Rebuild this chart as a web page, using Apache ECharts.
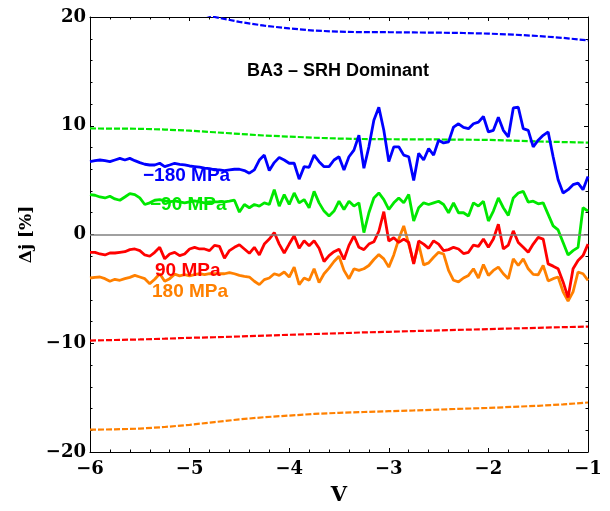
<!DOCTYPE html>
<html>
<head>
<meta charset="utf-8">
<script src="https://cdn.jsdelivr.net/npm/echarts@6/dist/echarts.min.js"></script>
<style>
  html, body { margin: 0; padding: 0; background: #fff; }
  #chart { width: 610px; height: 511px; }
</style>
</head>
<body>
<div id="chart"></div>
<script>
// sampling voltages of the measured curves
const voltage = [
  -6.00, -5.95, -5.90, -5.85, -5.80, -5.75, -5.70, -5.65, -5.60, -5.55,
  -5.50, -5.45, -5.40, -5.35, -5.30, -5.25, -5.20, -5.15, -5.10, -5.05,
  -5.00, -4.95, -4.90, -4.85, -4.80, -4.75, -4.70, -4.65, -4.60, -4.55,
  -4.50, -4.45, -4.40, -4.35, -4.30, -4.25, -4.20, -4.15, -4.10, -4.05,
  -4.00, -3.95, -3.90, -3.85, -3.80, -3.75, -3.70, -3.65, -3.60, -3.55,
  -3.50, -3.45, -3.40, -3.35, -3.30, -3.25, -3.20, -3.15, -3.10, -3.05,
  -3.00, -2.95, -2.90, -2.85, -2.80, -2.75, -2.70, -2.65, -2.60, -2.55,
  -2.50, -2.45, -2.40, -2.35, -2.30, -2.25, -2.20, -2.15, -2.10, -2.05,
  -2.00, -1.95, -1.90, -1.85, -1.80, -1.75, -1.70, -1.65, -1.60, -1.55,
  -1.50, -1.45, -1.40, -1.35, -1.30, -1.25, -1.20, -1.15, -1.10, -1.05,
  -1.00
];

// measured (noisy) curves
const blueSolid = [
  6.70, 6.79, 6.85, 6.79, 6.70, 6.85, 7.00, 6.85, 7.00, 6.79,
  6.61, 6.46, 6.39, 6.39, 6.55, 6.24, 6.39, 6.55, 6.45, 6.40,
  6.30, 6.25, 6.20, 6.10, 6.05, 5.94, 5.94, 5.88, 5.94, 6.00,
  6.00, 5.88, 5.64, 5.94, 6.85, 7.30, 5.88, 6.61, 7.09, 6.85,
  6.55, 6.55, 5.09, 6.24, 6.18, 7.30, 6.70, 6.24, 6.24, 6.85,
  7.15, 5.94, 7.15, 7.76, 9.12, 6.09, 8.06, 10.50, 11.70, 9.58,
  6.70, 8.06, 8.06, 7.30, 7.15, 4.97, 7.46, 6.85, 7.91, 7.30,
  8.67, 8.42, 8.52, 9.88, 10.18, 9.85, 9.73, 10.18, 10.33, 10.85,
  9.43, 9.58, 10.79, 9.58, 8.97, 11.64, 11.70, 9.73, 9.58, 8.06,
  8.67, 9.12, 9.43, 7.15, 5.03, 3.82, 4.12, 4.58, 4.73, 4.12,
  5.33
];
const greenSolid = [
  3.67, 3.61, 3.45, 3.36, 3.52, 3.27, 3.15, 3.45, 3.76, 3.67,
  3.36, 2.76, 2.91, 3.15, 3.20, 3.10, 3.00, 3.10, 3.00, 2.90,
  3.00, 3.10, 3.00, 2.90, 3.00, 3.00, 3.00, 3.00, 3.06, 3.15,
  2.06, 2.76, 2.46, 2.76, 2.61, 2.91, 2.76, 4.12, 2.61, 3.67,
  2.76, 3.82, 2.91, 3.21, 2.46, 3.97, 2.91, 2.15, 1.70, 2.15,
  3.06, 2.30, 3.06, 2.61, 2.91, 0.18, 2.00, 3.36, 3.82, 3.21,
  2.30, 2.91, 3.36, 2.91, 3.67, 1.24, 2.46, 2.91, 2.76, 2.91,
  3.06, 2.76, 2.00, 2.91, 2.00, 2.00, 1.70, 2.91, 2.61, 3.06,
  1.24, 2.15, 3.36, 2.46, 1.76, 3.36, 3.82, 3.97, 2.97, 3.06,
  2.82, 2.91, 1.85, 0.79, 0.42, -0.73, -1.88, -1.48, -1.18, 2.46,
  2.15
];
const redSolid = [
  -1.64, -1.64, -1.79, -1.88, -1.70, -1.70, -1.64, -1.58, -1.39, -1.33,
  -1.48, -1.88, -2.00, -1.64, -1.18, -2.24, -1.79, -1.64, -1.94, -1.79,
  -1.33, -1.18, -1.33, -1.33, -1.48, -1.00, -1.09, -2.18, -1.48, -1.18,
  -0.94, -1.33, -1.73, -1.18, -1.88, -0.88, -0.42, 0.18, -0.88, -1.70,
  -0.88, -0.12, -1.27, -0.58, -1.03, -0.58, -1.27, -2.48, -1.94, -1.58,
  -1.35, -2.30, -1.00, -0.12, -1.18, -1.39, -0.88, -0.67, 0.30, 2.10,
  -0.60, -0.30, -0.73, -0.42, -0.73, -2.70, -0.60, -0.88, -1.27, -0.58,
  -0.88, -1.48, -1.39, -1.18, -1.33, -1.75, -1.64, -0.97, -1.09, -0.42,
  -1.18, -0.42, 0.95, -1.33, -0.97, 0.33, -0.73, -1.18, -1.64, -0.88,
  -0.27, -0.42, -2.70, -2.91, -3.15, -4.36, -5.80, -3.15, -2.39, -1.94,
  -0.88
];
const orangeSolid = [
  -4.00, -3.94, -3.91, -4.06, -4.30, -4.12, -4.21, -4.06, -3.94, -3.76,
  -3.91, -4.06, -4.52, -4.12, -3.61, -4.30, -4.06, -3.65, -3.80, -3.70,
  -3.80, -3.70, -3.60, -3.70, -3.60, -3.61, -3.61, -3.61, -3.50, -3.61,
  -3.76, -3.85, -3.91, -4.30, -4.61, -4.15, -4.00, -3.61, -3.76, -3.45,
  -3.91, -3.00, -4.61, -4.00, -4.21, -3.15, -4.42, -3.61, -3.09, -2.48,
  -2.00, -3.30, -4.06, -3.15, -3.30, -3.15, -2.85, -2.30, -1.85, -2.24,
  -3.00, -1.88, -0.42, 0.79, -0.88, -2.60, -0.90, -2.79, -2.61, -2.09,
  -1.64, -1.79, -3.30, -4.21, -4.36, -4.00, -3.76, -3.15, -4.00, -2.76,
  -3.76, -3.30, -3.00, -3.61, -4.06, -2.24, -2.85, -2.24, -3.15, -3.67,
  -3.70, -2.85, -4.27, -4.06, -3.91, -5.27, -6.12, -5.27, -3.45, -3.61,
  -4.21
];

// smooth (dashed) model curves
const dashV = [-6, -5.75, -5.5, -5.25, -5, -4.75, -4.5, -4.25, -4, -3.75, -3.5,
  -3.25, -3, -2.75, -2.5, -2.25, -2, -1.75, -1.5, -1.25, -1];
const blueDash = [23.3, 22.6, 21.9, 21.2, 20.6, 20.0, 19.55, 19.2, 18.95, 18.75, 18.65,
  18.6, 18.6, 18.58, 18.56, 18.53, 18.47, 18.38, 18.25, 18.08, 17.85];
const greenDash = [9.75, 9.74, 9.72, 9.65, 9.55, 9.4, 9.25, 9.1, 9.0, 8.9, 8.82,
  8.78, 8.76, 8.75, 8.74, 8.72, 8.7, 8.63, 8.56, 8.5, 8.45];
const redDash = [-9.75, -9.7, -9.65, -9.58, -9.5, -9.45, -9.38, -9.3, -9.22, -9.15, -9.08,
  -9.0, -8.95, -8.88, -8.82, -8.76, -8.7, -8.64, -8.58, -8.52, -8.47];
const orangeDash = [-17.95, -17.92, -17.85, -17.7, -17.5, -17.25, -17.0, -16.8, -16.65, -16.5, -16.4,
  -16.32, -16.25, -16.18, -16.1, -16.02, -15.95, -15.85, -15.75, -15.62, -15.45];

const xTicks = [-6, -5, -4, -3, -2, -1];
const xTickLabels = ["\u22126", "\u22125", "\u22124", "\u22123", "\u22122", "\u22121"];
const yTicks = [-20, -10, 0, 10, 20];
const yTickLabels = ["\u221220", "\u221210", "0", "10", "20"];

const BLUE = "#0000ff", GREEN = "#00e800", RED = "#ff0000", ORANGE = "#ff8000";

const zip = (xs, ys) => xs.map((x, i) => [x, ys[i]]);

const serif = "DejaVu Serif";
const sans = "Liberation Sans";

function frameAxis(extra) {
  return Object.assign({
    type: "value",
    axisLine: { show: true, onZero: false, lineStyle: { color: "#000", width: 1 } },
    axisTick: { show: true, inside: true, length: 4, lineStyle: { color: "#000", width: 1 } },
    minorTick: { show: true, splitNumber: 5, length: 2.5, lineStyle: { color: "#000", width: 1 } },
    splitLine: { show: false },
  }, extra);
}

const chart = echarts.init(document.getElementById("chart"));

const tickFont = { fontFamily: serif, fontWeight: "bold", fontSize: 18, color: "#000" };

const option = {
  animation: false,
  grid: { left: 90, right: 22, top: 17, bottom: 54 },
  xAxis: [
    frameAxis({
      min: -6, max: -1, interval: 1, position: "bottom",
      axisLabel: Object.assign({
        margin: 8, showMinLabel: true, showMaxLabel: true,
        formatter: (v) => xTickLabels[xTicks.indexOf(Math.round(v))],
      }, tickFont),
      name: "V", nameLocation: "middle", nameGap: 33,
      nameTextStyle: { fontFamily: serif, fontWeight: "bold", fontSize: 21, color: "#000" },
    }),
    frameAxis({ min: -6, max: -1, interval: 1, position: "top", axisLabel: { show: false } }),
  ],
  yAxis: [
    frameAxis({
      min: -20, max: 20, interval: 10, position: "left",
      axisLabel: Object.assign({
        margin: 4, showMinLabel: true, showMaxLabel: true,
        formatter: (v) => yTickLabels[yTicks.indexOf(Math.round(v))],
      }, tickFont),
      name: "\u0394j [%]", nameLocation: "middle", nameGap: 52, nameRotate: 90,
      nameTextStyle: { fontFamily: serif, fontWeight: "bold", fontSize: 17, color: "#000" },
    }),
    frameAxis({ min: -20, max: 20, interval: 10, position: "right", axisLabel: { show: false } }),
  ],
  series: [
    {
      type: "line", data: zip(dashV, blueDash), showSymbol: false,
      lineStyle: { color: BLUE, width: 2.2, type: [6, 2] },
      markLine: {
        silent: true, symbol: "none", label: { show: false },
        lineStyle: { color: "#808080", width: 1.5, type: "solid" },
        data: [{ yAxis: 0 }],
      },
    },
    { type: "line", data: zip(dashV, greenDash), showSymbol: false, lineStyle: { color: GREEN, width: 2.2, type: [6, 2] } },
    { type: "line", data: zip(dashV, redDash), showSymbol: false, lineStyle: { color: RED, width: 2.2, type: [6, 2] } },
    { type: "line", data: zip(dashV, orangeDash), showSymbol: false, lineStyle: { color: ORANGE, width: 2.2, type: [6, 2] } },
    { type: "line", data: zip(voltage, orangeSolid), showSymbol: false, lineStyle: { color: ORANGE, width: 2.8 } },
    { type: "line", data: zip(voltage, redSolid), showSymbol: false, lineStyle: { color: RED, width: 2.8 } },
    { type: "line", data: zip(voltage, greenSolid), showSymbol: false, lineStyle: { color: GREEN, width: 2.8 } },
    { type: "line", data: zip(voltage, blueSolid), showSymbol: false, lineStyle: { color: BLUE, width: 2.8 } },
  ],
  graphic: [
    { type: "text", x: 338, y: 71, z: 100,
      style: { text: "BA3 \u2013 SRH Dominant", fill: "#000", font: "bold 18px " + sans, align: "center", verticalAlign: "middle" } },
    { type: "text", x: 143, y: 176, z: 100,
      style: { text: "\u2212180 MPa", fill: BLUE, font: "bold 19px " + sans, verticalAlign: "middle" } },
    { type: "text", x: 150, y: 205, z: 100,
      style: { text: "\u221290 MPa", fill: GREEN, font: "bold 19px " + sans, verticalAlign: "middle" } },
    { type: "text", x: 155, y: 271, z: 100,
      style: { text: "90 MPa", fill: RED, font: "bold 19px " + sans, verticalAlign: "middle" } },
    { type: "text", x: 152, y: 292, z: 100,
      style: { text: "180 MPa", fill: ORANGE, font: "bold 19px " + sans, verticalAlign: "middle" } },
  ],
};

chart.setOption(option);
</script>
</body>
</html>
